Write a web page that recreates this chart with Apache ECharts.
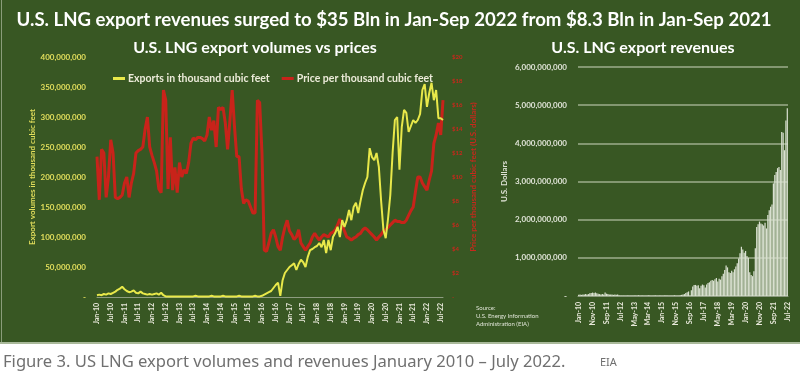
<!DOCTYPE html>
<html><head><meta charset="utf-8">
<script src="https://cdn.jsdelivr.net/npm/echarts@6/dist/echarts.min.js"></script>
<style>html,body{margin:0;padding:0;background:#fff}#c{width:800px;height:382px}</style>
</head><body><div id="c"></div>
<script>
// ---- DATA ----
const monthNames = ['Jan','Feb','Mar','Apr','May','Jun','Jul','Aug','Sep','Oct','Nov','Dec'];
const startYear = 2010;
// Monthly US LNG exports, millions of thousand cubic feet (Jan-10 .. Aug-22)
const exportsMillionMcf = [
  3,4,3,5,4,6,5,7,9,12,14,17,
  13,10,8,9,11,7,6,9,6,5,4,5,
  4,5,6,4,7,3,1,1,1,1,1,1,
  1,1,1,1,1,1,1,2,1,1,1,1,
  1,1,2,1,1,1,1,2,1,1,1,1,
  1,1,2,1,1,1,1,1,1,2,1,1,
  2,4,6,8,10,15,20,24,2,28,40,45,
  50,53,56,45,55,62,58,50,67,78,80,83,
  85,90,83,95,73,95,78,100,107,117,100,128,
  117,128,145,128,150,157,140,160,178,190,200,248,
  233,228,240,217,160,112,98,130,170,240,295,300,
  212,283,312,307,275,285,295,290,295,305,345,355,
  317,340,357,328,345,298,298,295
];
// Monthly export price, US dollars per thousand cubic feet (Jan-10 .. Aug-22)
const pricePerMcf = [
  11.7,8.1,12.3,12.0,8.3,10.0,13.1,12.0,8.3,8.2,8.3,8.5,
  9.5,10.0,8.3,9.5,10.3,12.0,12.2,12.3,12.5,14.0,15.0,12.5,
  11.8,11.2,10.5,9.0,8.7,17.25,16.4,9.0,13.3,8.9,10.8,8.7,
  11.2,10.0,10.6,10.3,11.2,12.8,13.25,13.1,13.3,13.3,13.2,13.0,
  13.5,15.0,13.9,14.7,12.5,15.8,15.6,15.8,14.5,12.3,14.7,17.25,
  14.2,11.7,11.7,9.0,7.8,8.1,8.0,7.5,7.0,7.0,16.4,16.2,
  12.0,3.9,3.8,4.5,5.3,5.6,5.0,4.2,3.9,5.0,5.8,6.4,
  5.5,5.2,4.8,5.0,5.6,4.5,4.2,3.9,4.2,4.5,5.0,5.3,
  5.0,4.75,5.0,5.2,5.1,5.0,5.3,5.4,5.6,6.0,6.5,6.0,
  5.5,5.0,4.9,4.75,4.9,5.0,5.2,5.3,5.6,5.75,5.6,5.4,
  5.2,5.0,4.75,5.0,5.2,5.5,5.6,5.8,6.0,6.2,6.4,6.3,
  6.3,6.2,6.2,6.4,6.8,7.2,7.5,8.8,10.0,10.0,9.5,9.2,
  8.9,9.75,10.5,12.8,13.5,14.5,13.5,16.4
];
// Monthly export revenues, billions of US dollars (Jan-10 .. Jul-22)
const revenueBillionUsd = [
  0.03,0.04,0.03,0.04,0.04,0.05,0.04,0.05,0.07,0.08,0.09,0.08,
  0.09,0.07,0.06,0.05,0.04,0.05,0.04,0.09,0.06,0.05,0.04,0.04,
  0.04,0.03,0.04,0.03,0.04,0.02,0.01,0.01,0.01,0.01,0.01,0.01,
  0.01,0.01,0.01,0.01,0.01,0.01,0.01,0.02,0.01,0.01,0.01,0.01,
  0.01,0.01,0.02,0.01,0.01,0.01,0.01,0.02,0.01,0.01,0.01,0.01,
  0.01,0.01,0.02,0.01,0.01,0.01,0.01,0.01,0.01,0.02,0.01,0.01,
  0.01,0.02,0.03,0.04,0.05,0.08,0.10,0.12,0.01,0.15,0.25,0.29,
  0.29,0.27,0.28,0.20,0.27,0.30,0.28,0.22,0.30,0.34,0.36,0.40,
  0.42,0.40,0.44,0.47,0.38,0.45,0.43,0.52,0.58,0.68,0.80,0.75,
  0.62,0.60,0.66,0.62,0.70,0.77,0.86,0.98,1.12,1.29,1.22,1.13,
  1.18,1.05,1.00,0.62,0.55,0.52,0.65,1.25,1.81,1.88,1.95,1.90,
  1.88,1.85,1.92,1.77,2.12,2.25,2.34,2.40,2.95,3.17,3.25,3.35,
  3.38,3.30,4.30,4.28,3.82,4.60,4.92
];
const volumeTickStep = 50;   // millions
const volumeMax = 400;
const priceTickStep = 2;
const priceMax = 20;
const revenueTickStep = 1;   // billions
const revenueMax = 6;

// ---- BUILD ----
function monthLabel(i){ return monthNames[i % 12] + '-' + String(startYear + Math.floor(i / 12)).slice(2); }
const volumeCats = exportsMillionMcf.map((_, i) => monthLabel(i));
const revenueCats = revenueBillionUsd.map((_, i) => monthLabel(i));
const fmt = n => Math.round(n).toLocaleString('en-US');

const FONT = 'Lato';
const chart = echarts.init(document.getElementById('c'), null, {renderer: 'canvas'});
chart.setOption({
  animation: false,
  backgroundColor: '#ffffff',
  textStyle: {fontFamily: FONT},
  graphic: [
    {type: 'rect', silent: true, z: -10, shape: {x: 0, y: 0, width: 800, height: 342}, style: {fill: '#385723'}},
    {type: 'rect', silent: true, z: -9, shape: {x: 0, y: 342, width: 800, height: 2}, style: {fill: '#a9b99a'}},
    {type: 'rect', silent: true, z: -9, shape: {x: 1, y: 0, width: 1, height: 342}, style: {fill: '#8a9c7a'}},
    {type: 'text', silent: true, x: 394, y: 20, style: {text: 'U.S. LNG export revenues surged to $35 Bln in Jan-Sep 2022 from $8.3 Bln in Jan-Sep 2021', fill: '#ffffff', font: 'bold 18.6px ' + FONT, align: 'center', verticalAlign: 'middle'}},
    {type: 'text', silent: true, x: 255, y: 48, style: {text: 'U.S. LNG export volumes vs prices', fill: '#ffffff', font: 'bold 16px ' + FONT, align: 'center', verticalAlign: 'middle'}},
    {type: 'text', silent: true, x: 643, y: 48, style: {text: 'U.S. LNG export revenues', fill: '#ffffff', font: 'bold 16px ' + FONT, align: 'center', verticalAlign: 'middle'}},
    {type: 'text', silent: true, x: 476, y: 304, style: {text: 'Source:\nU.S. Energy Information\nAdministration (EIA)', fill: '#dfe4d6', font: '6px ' + FONT, lineHeight: 8}},
    {type: 'text', silent: true, x: 3, y: 362, style: {text: 'Figure 3. US LNG export volumes and revenues January 2010 \u2013 July 2022.', fill: '#707070', font: '16.6px "Noto Sans"', verticalAlign: 'middle'}},
    {type: 'text', silent: true, x: 600, y: 363, style: {text: 'EIA', fill: '#707070', font: '11px "Noto Sans"', verticalAlign: 'middle'}}
  ],
  legend: {
    left: 113, top: 73, padding: 0, itemGap: 12, itemWidth: 12, itemHeight: 3, icon: 'rect',
    textStyle: {color: '#ecebd9', fontSize: 10.5, fontWeight: 'bold', padding: [0, 0, 0, -2]},
    data: ['Exports in thousand cubic feet', 'Price per thousand cubic feet']
  },
  grid: [
    {left: 97, top: 57, width: 346, height: 240},
    {left: 578, top: 67, width: 210, height: 229}
  ],
  xAxis: [
    {type: 'category', gridIndex: 0, data: volumeCats, boundaryGap: false,
     axisLine: {lineStyle: {color: '#8d9c80', width: 1}}, axisTick: {show: false},
     axisLabel: {interval: 5, rotate: 90, color: '#e8e8da', fontSize: 7, fontWeight: 'bold', margin: 6}},
    {type: 'category', gridIndex: 1, data: revenueCats, boundaryGap: true,
     axisLine: {lineStyle: {color: '#8d9c80', width: 1}}, axisTick: {show: false},
     axisLabel: {interval: 9, rotate: 90, color: '#e8e8da', fontSize: 7, fontWeight: 'bold', margin: 6}}
  ],
  yAxis: [
    {type: 'value', gridIndex: 0, min: 0, max: volumeMax, interval: volumeTickStep,
     splitLine: {show: false}, axisLine: {show: false}, axisTick: {show: false},
     axisLabel: {color: '#e2de5c', fontSize: 8, fontWeight: 'bold', margin: 11, formatter: v => v === 0 ? '-' : fmt(v * 1e6)},
     name: 'Export volumes in thousand cubic feet', nameLocation: 'middle', nameGap: 60, nameRotate: 90,
     nameTextStyle: {color: '#e2de5c', fontSize: 8, fontWeight: 'bold'}},
    {type: 'value', gridIndex: 0, position: 'right', min: 0, max: priceMax, interval: priceTickStep,
     splitLine: {show: false}, axisLine: {show: false}, axisTick: {show: false},
     axisLabel: {color: '#c8281c', fontSize: 6, fontWeight: 'bold', margin: 9, formatter: v => v === 0 ? '-' : '$' + v},
     name: 'Price per thousand cubic feet (U.S. dollars)', nameLocation: 'middle', nameGap: 26, nameRotate: 90,
     nameTextStyle: {color: '#c8281c', fontSize: 8, fontWeight: 'bold'}},
    {type: 'value', gridIndex: 1, min: 0, max: revenueMax, interval: revenueTickStep,
     splitLine: {lineStyle: {color: '#9cad8c', width: 1.5}}, axisLine: {show: false}, axisTick: {show: false},
     axisLabel: {color: '#dfe3d6', fontSize: 8, fontWeight: 'bold', margin: 11, formatter: v => v === 0 ? '-' : fmt(v * 1e9)},
     name: 'U.S. Dollars', nameLocation: 'middle', nameGap: 70, nameRotate: 90,
     nameTextStyle: {color: '#dfe3d6', fontSize: 8, fontWeight: 'bold'}}
  ],
  series: [
    {name: 'Exports in thousand cubic feet', type: 'line', xAxisIndex: 0, yAxisIndex: 0, data: exportsMillionMcf,
     symbol: 'none', z: 4, color: '#e8e84a', lineStyle: {color: '#e8e84a', width: 2}},
    {name: 'Price per thousand cubic feet', type: 'line', xAxisIndex: 0, yAxisIndex: 1, data: pricePerMcf,
     symbol: 'none', z: 3, color: '#c8231a', lineStyle: {color: '#c8231a', width: 3}},
    {name: 'Revenues', type: 'bar', xAxisIndex: 1, yAxisIndex: 2, data: revenueBillionUsd,
     barCategoryGap: '12%', itemStyle: {color: '#d9e0d0'}}
  ]
});
</script></body></html>
